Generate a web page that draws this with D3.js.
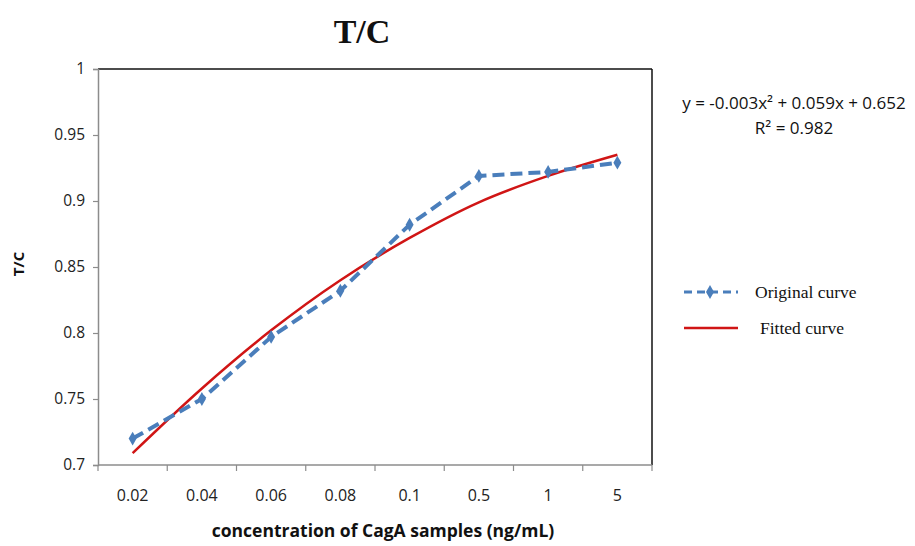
<!DOCTYPE html>
<html><head><meta charset="utf-8">
<script src="https://cdn.jsdelivr.net/npm/d3@7"></script>
<style>html,body{margin:0;padding:0;background:#fff;}svg{display:block;}</style>
</head><body>
<svg id="chart" width="915" height="546"></svg>
<script>
const categories = ["0.02","0.04","0.06","0.08","0.1","0.5","1","5"];
const originalValues = [0.720, 0.750, 0.797, 0.832, 0.882, 0.919, 0.922, 0.929];
const fittedValues = [0.709, 0.758, 0.802, 0.840, 0.872, 0.899, 0.919, 0.935];
const yTicks = [0.7, 0.75, 0.8, 0.85, 0.9, 0.95, 1];
const yTickLabels = ["0.7","0.75","0.8","0.85","0.9","0.95","1"];
const titleText = "T/C";
const yLabelText = "T/C";
const xLabelText = "concentration of CagA samples (ng/mL)";
const legendLabels = ["Original curve","Fitted curve"];
const equationLines = ["y = -0.003x² + 0.059x + 0.652","R² = 0.982"];

const svg = d3.select("#chart");
const plotL = 98, plotR = 652, plotT = 69, plotB = 465;
const sansFont = "'Open Sans', 'DejaVu Sans', sans-serif";
const serifFont = "'Liberation Serif', 'Times New Roman', serif";
const blue = "#4a7ebb", red = "#d01515", axisGray = "#8c8c8c";

const xBand = d3.scaleBand().domain(categories).range([plotL, plotR]).paddingInner(0).paddingOuter(0);
const x = c => xBand(c) + xBand.bandwidth() / 2;
const y = d3.scaleLinear().domain([0.7, 1]).range([plotB, plotT]);

// frame top & right
svg.append("line").attr("x1", plotL).attr("x2", plotR).attr("y1", plotT).attr("y2", plotT).attr("stroke", "#111").attr("stroke-width", 1.5);
svg.append("line").attr("x1", plotR).attr("x2", plotR).attr("y1", plotT).attr("y2", plotB).attr("stroke", "#111").attr("stroke-width", 1.5);

// y axis
const yAxis = svg.append("g").attr("transform", `translate(${plotL},0)`)
  .call(d3.axisLeft(y).tickValues(yTicks).tickFormat((d, i) => yTickLabels[i]).tickSize(5).tickPadding(8));
yAxis.select(".domain").attr("stroke", axisGray).attr("stroke-width", 1.5);
yAxis.selectAll(".tick line").attr("stroke", axisGray).attr("stroke-width", 1.2);
yAxis.selectAll(".tick text").attr("font-family", sansFont).attr("font-size", 15.5).attr("fill", "#222");

// x axis: ticks at category boundaries
const xAxisG = svg.append("g");
xAxisG.append("line").attr("x1", plotL).attr("x2", plotR).attr("y1", plotB).attr("y2", plotB).attr("stroke", axisGray).attr("stroke-width", 1.5);
const bounds = categories.map(c => xBand(c)).concat([xBand(categories[categories.length-1]) + xBand.bandwidth()]);
xAxisG.selectAll("line.tk").data(bounds).enter().append("line").attr("class","tk")
  .attr("x1", d => d).attr("x2", d => d).attr("y1", plotB).attr("y2", plotB + 6)
  .attr("stroke", axisGray).attr("stroke-width", 1.2);
xAxisG.selectAll("text").data(categories).enter().append("text")
  .attr("x", d => x(d)).attr("y", 501).attr("text-anchor", "middle")
  .attr("font-family", sansFont).attr("font-size", 16).attr("fill", "#222").text(d => d);

// titles
svg.append("text").attr("x", 362).attr("y", 43).attr("text-anchor", "middle")
  .attr("font-family", serifFont).attr("font-weight", "bold").attr("font-size", 34).attr("fill", "#111").text(titleText);
svg.append("text").attr("transform", "translate(24,264) rotate(-90)").attr("text-anchor", "middle")
  .attr("font-family", sansFont).attr("font-weight", "bold").attr("font-size", 15).attr("fill", "#111").text(yLabelText);
svg.append("text").attr("x", 383).attr("y", 537).attr("text-anchor", "middle")
  .attr("font-family", sansFont).attr("font-weight", "bold").attr("font-size", 17.5).attr("fill", "#111").text(xLabelText);

// fitted curve
const fitLine = d3.line().x((d, i) => x(categories[i])).y(d => y(d)).curve(d3.curveCatmullRom.alpha(0.5));
svg.append("path").datum(fittedValues).attr("d", fitLine).attr("fill", "none").attr("stroke", red).attr("stroke-width", 2.5);

// original curve
const origLine = d3.line().x((d, i) => x(categories[i])).y(d => y(d));
svg.append("path").datum(originalValues).attr("d", origLine).attr("fill", "none")
  .attr("stroke", blue).attr("stroke-width", 4).attr("stroke-dasharray", "12,6");
const diamond = d3.symbol().type(d3.symbolDiamond).size(55);
svg.selectAll("path.pt").data(originalValues).enter().append("path").attr("class", "pt")
  .attr("d", diamond).attr("transform", (d, i) => `translate(${x(categories[i])},${y(d)})`).attr("fill", blue);

// equation
svg.selectAll("text.eq").data(equationLines).enter().append("text").attr("class", "eq")
  .attr("x", 794).attr("y", (d, i) => 109 + i * 25).attr("text-anchor", "middle")
  .attr("font-family", sansFont).attr("font-size", 17).attr("fill", "#111").text(d => d);

// legend
const lg = svg.append("g");
lg.append("line").attr("x1", 684).attr("x2", 738).attr("y1", 292).attr("y2", 292)
  .attr("stroke", blue).attr("stroke-width", 3).attr("stroke-dasharray", "8,5");
lg.append("path").attr("d", diamond).attr("transform", "translate(710,292)").attr("fill", blue);
lg.append("line").attr("x1", 684).attr("x2", 738).attr("y1", 328).attr("y2", 328)
  .attr("stroke", red).attr("stroke-width", 2.5);
lg.selectAll("text").data(legendLabels).enter().append("text")
  .attr("x", (d, i) => i === 0 ? 755 : 760).attr("y", (d, i) => 298 + i * 36)
  .attr("font-family", serifFont).attr("font-size", 17.5).attr("fill", "#111").text(d => d);
</script>
</body></html>
